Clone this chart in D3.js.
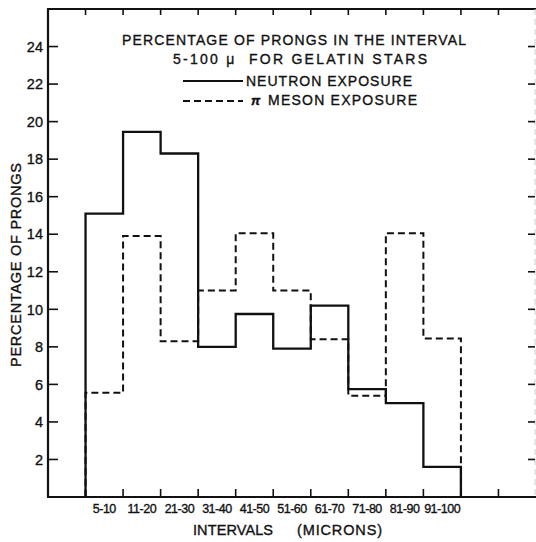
<!DOCTYPE html>
<html>
<head>
<meta charset="utf-8">
<script src="https://cdn.jsdelivr.net/npm/d3@7"></script>
<style>
  html, body { margin: 0; padding: 0; background: #fff; }
  svg { display: block; }
  text { font-family: "Liberation Sans", Arial, sans-serif; fill: #111; stroke: #111; stroke-width: 0.35px; }
</style>
</head>
<body>
<svg id="chart" width="536" height="542"></svg>
<script>
// ---- data ----
const categories = ["5-10", "11-20", "21-30", "31-40", "41-50", "51-60", "61-70", "71-80", "81-90", "91-100"];
const neutron = [15.1, 19.45, 18.3, 8.0, 9.75, 7.9, 10.2, 5.75, 5.0, 1.6];
const meson = [5.55, 13.9, 8.3, 11.0, 14.05, 11.0, 8.4, 5.4, 14.05, 8.45];
const yTicks = [2, 4, 6, 8, 10, 12, 14, 16, 18, 20, 22, 24];
const titleLines = ["PERCENTAGE OF PRONGS IN THE INTERVAL", "5-100 \u03bc  FOR GELATIN STARS"];
const legendLabels = ["NEUTRON EXPOSURE", "MESON EXPOSURE"];
const yLabel = "PERCENTAGE OF PRONGS";
const xLabelParts = ["INTERVALS", "(MICRONS)"];

// ---- layout ----
const svg = d3.select("#chart");
const mLeft = 48, mRight = 536, mTop = 9, mBottom = 497;
const x = d3.scaleLinear().domain([-1, 12]).range([mLeft, mRight]);
const y = d3.scaleLinear().domain([0, 26]).range([mBottom, mTop]);

// frame
const frame = svg.append("g").attr("stroke", "#111").attr("fill", "none");
frame.append("line").attr("x1", x(-1)).attr("x2", x(-1)).attr("y1", y(0)).attr("y2", y(26)).attr("stroke-width", 2.2);
frame.append("line").attr("x1", x(-1) - 1).attr("x2", mRight).attr("y1", y(0)).attr("y2", y(0)).attr("stroke-width", 2.2);
frame.append("line").attr("x1", x(-1) - 1).attr("x2", mRight).attr("y1", y(26)).attr("y2", y(26)).attr("stroke-width", 2);
frame.append("line").attr("x1", 535).attr("x2", 535).attr("y1", y(26)).attr("y2", y(0))
  .attr("stroke", "#ccc").attr("stroke-width", 1).attr("stroke-dasharray", "6,4");

// y ticks (left inward) + labels
const yAxisG = svg.append("g");
yTicks.forEach(t => {
  yAxisG.append("line").attr("x1", x(-1)).attr("x2", x(-1) + 10).attr("y1", y(t)).attr("y2", y(t))
    .attr("stroke", "#111").attr("stroke-width", 1.6);
  yAxisG.append("line").attr("x1", 535).attr("x2", 528).attr("y1", y(t)).attr("y2", y(t))
    .attr("stroke", "#111").attr("stroke-width", 1.6);
  yAxisG.append("text").attr("x", 43).attr("y", y(t)).attr("dy", "0.36em")
    .attr("text-anchor", "end").attr("font-size", 14.5).text(t);
});

// x ticks top & bottom
const xTickIdx = d3.range(0, 12);
xTickIdx.forEach(i => {
  svg.append("line").attr("x1", x(i)).attr("x2", x(i)).attr("y1", y(26)).attr("y2", y(26) + 6)
    .attr("stroke", "#111").attr("stroke-width", 1.6);
  svg.append("line").attr("x1", x(i)).attr("x2", x(i)).attr("y1", y(0)).attr("y2", y(0) - 8)
    .attr("stroke", "#111").attr("stroke-width", 1.6);
});
// x tick labels centered on bins
categories.forEach((c, i) => {
  svg.append("text").attr("x", x(i + 0.5)).attr("y", 513).attr("text-anchor", "middle")
    .attr("font-size", 12.5).attr("letter-spacing", -0.5).text(c);
});

// step outlines
function stepPath(vals) {
  const pts = [[x(0), y(0)]];
  vals.forEach((v, i) => { pts.push([x(i), y(v)]); pts.push([x(i + 1), y(v)]); });
  pts.push([x(vals.length), y(0)]);
  return d3.line()(pts);
}
svg.append("path").attr("d", stepPath(meson)).attr("fill", "none").attr("stroke", "#111")
  .attr("stroke-width", 2).attr("stroke-dasharray", "7,4");
svg.append("path").attr("d", stepPath(neutron)).attr("fill", "none").attr("stroke", "#111")
  .attr("stroke-width", 2.3);

// title & legend
svg.append("text").attr("x", 122).attr("y", 45).attr("font-size", 14)
  .attr("textLength", 344).attr("lengthAdjust", "spacing").text(titleLines[0]);
svg.append("text").attr("x", 173).attr("y", 64).attr("font-size", 14)
  .attr("textLength", 254).attr("lengthAdjust", "spacing").attr("xml:space", "preserve").text(titleLines[1]);
svg.append("line").attr("x1", 183).attr("x2", 243).attr("y1", 81).attr("y2", 81)
  .attr("stroke", "#111").attr("stroke-width", 2);
svg.append("text").attr("x", 246).attr("y", 86).attr("font-size", 14)
  .attr("textLength", 166).attr("lengthAdjust", "spacing").text(legendLabels[0]);
svg.append("line").attr("x1", 183).attr("x2", 243).attr("y1", 101).attr("y2", 101)
  .attr("stroke", "#111").attr("stroke-width", 2).attr("stroke-dasharray", "7,4");
svg.append("text").attr("x", 251).attr("y", 105).attr("font-size", 13).attr("font-weight", "bold")
  .attr("font-style", "italic").text("\u03c0");
svg.append("text").attr("x", 268).attr("y", 105).attr("font-size", 14)
  .attr("textLength", 149).attr("lengthAdjust", "spacing").text(legendLabels[1]);

// axis titles
svg.append("text").attr("transform", "translate(21,265) rotate(-90)").attr("text-anchor", "middle")
  .attr("font-size", 14.5).attr("textLength", 204).attr("lengthAdjust", "spacing").text(yLabel);
svg.append("text").attr("x", 193).attr("y", 535).attr("font-size", 14.5)
  .attr("textLength", 80).attr("lengthAdjust", "spacing").text(xLabelParts[0]);
svg.append("text").attr("x", 297).attr("y", 535).attr("font-size", 14.5)
  .attr("textLength", 85).attr("lengthAdjust", "spacing").text(xLabelParts[1]);
</script>
</body>
</html>
